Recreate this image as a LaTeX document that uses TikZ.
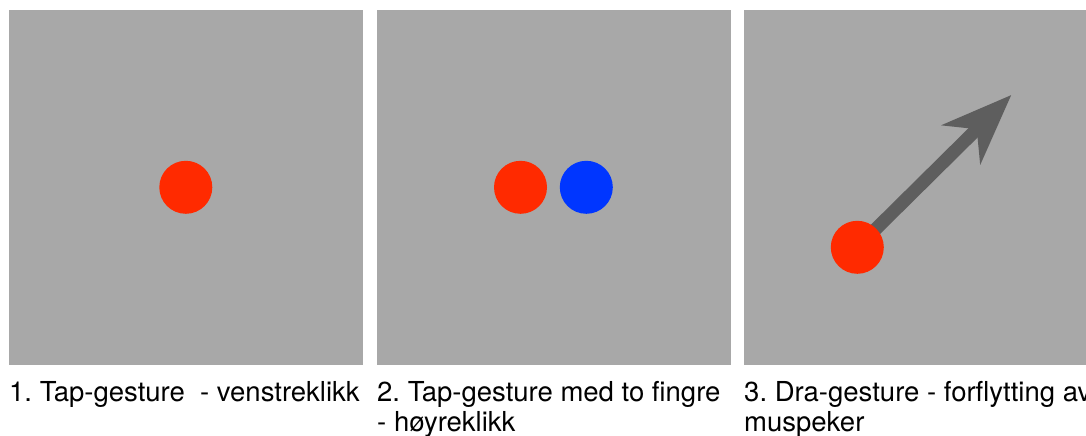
\documentclass[tikz,border=0pt]{standalone}
\usepackage{fontspec}
\setmainfont{TeX Gyre Heros}
\usetikzlibrary{arrows.meta}
\definecolor{panelgray}{HTML}{A8A8A8}
\definecolor{touchred}{HTML}{FF2A00}
\definecolor{touchblue}{HTML}{0036FF}
\definecolor{arrowgray}{HTML}{5E5E5E}
\frenchspacing
\begin{document}
\begin{tikzpicture}[x=1pt,y=-1pt,
  panel/.style={fill=panelgray,draw=none,minimum width=354pt,minimum height=355pt,inner sep=0pt,anchor=north west},
  finger/.style={circle,draw=none,minimum size=53pt,inner sep=0pt},
  caption/.style={anchor=base west,inner sep=0pt,align=left,
    font=\fontsize{27.5pt}{30pt}\selectfont}]
  \useasboundingbox (0,0) rectangle (1086,436);
  % three gesture panels
  \node[panel] (p1) at (9,10) {};
  \node[panel] (p2) at (377,10) {};
  \node[panel] (p3) at (744,10) {};
  % one-finger tap
  \node[finger,fill=touchred] (t1) at (185.8,187.3) {};
  % two-finger tap
  \node[finger,fill=touchred] (t2a) at (520.5,187.3) {};
  \node[finger,fill=touchblue] (t2b) at (586.3,187.3) {};
  % drag
  \coordinate (dragend) at (1011.3,95);
  \coordinate (dragstart) at (857.3,247.3);
  \draw[arrowgray,line width=13pt,
    -{Stealth[length=70pt,width=54pt,inset=21.5pt]}] (dragstart) -- (dragend);
  \node[finger,fill=touchred] (t3) at (dragstart) {};
  % captions (base anchor sits on the last line's baseline)
  \node[caption] (c1) at (9,401) {1. Tap-gesture\ \ - venstreklikk};
  \node[caption] (c2) at (377,431) {2. Tap-gesture med to fingre\\- høyreklikk};
  \node[caption] (c3) at (744,431) {3. Dra-gesture - forflytting av\\muspeker};
\end{tikzpicture}
\end{document}
